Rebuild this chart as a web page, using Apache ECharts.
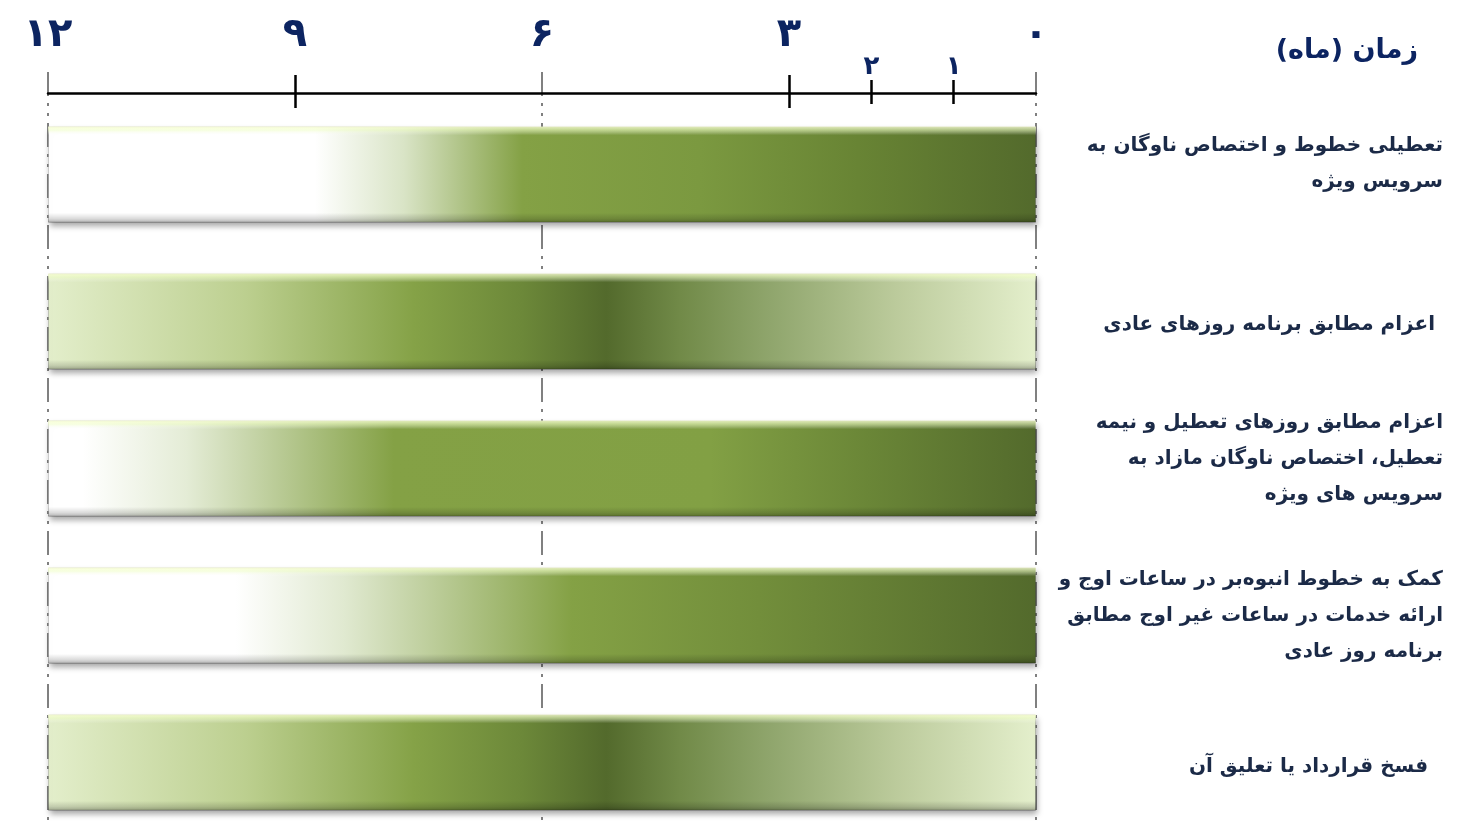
<!DOCTYPE html>
<html><head><meta charset="utf-8">
<script src="https://cdn.jsdelivr.net/npm/echarts@6/dist/echarts.min.js"></script>
<style>html,body{margin:0;padding:0;background:#fff}#c{width:1462px;height:824px}</style>
</head><body><div id="c"></div>
<script>
// ---------- data ----------
const categories = [
  'تعطیلی خطوط و اختصاص ناوگان به\nسرویس ویژه',
  'اعزام مطابق برنامه روزهای عادی',
  'اعزام مطابق روزهای تعطیل و نیمه\nتعطیل، اختصاص ناوگان مازاد به\nسرویس های ویژه',
  'کمک به خطوط انبوه\u200Cبر در ساعات اوج و\nارائه خدمات در ساعات غیر اوج مطابق\nبرنامه روز عادی',
  'فسخ قرارداد یا تعلیق آن'
];
const durations = [12, 12, 12, 12, 12];
const majorTicks = [0, 3, 6, 9, 12];
const minorTicks = [1, 2];
const crossTicks = [3, 9];
const axisTitle = 'زمان (ماه)';

// ---------- styles ----------
const faDigits = '۰۱۲۳۴۵۶۷۸۹';
const fa = n => String(n).replace(/\d/g, d => faDigits[d]);
const gradStops = [
  [[0,'#ffffff'],[0.27,'#ffffff'],[0.36,'#d9e4c6'],[0.48,'#84a145'],[0.66,'#7b9940'],[0.82,'#688434'],[1,'#536a2c']],
  [[0,'#e3eecb'],[0.2,'#bccf8f'],[0.37,'#85a247'],[0.48,'#6c8839'],[0.565,'#536a2c'],[0.64,'#718a48'],[0.73,'#8fa56c'],[0.86,'#bccb9c'],[1,'#e4efcc']],
  [[0,'#ffffff'],[0.035,'#ffffff'],[0.14,'#e4ecd6'],[0.35,'#84a145'],[0.67,'#82a044'],[0.83,'#6a8637'],[1,'#536a2c']],
  [[0,'#ffffff'],[0.19,'#ffffff'],[0.3,'#e0e9d0'],[0.53,'#84a145'],[0.72,'#728e3b'],[1,'#536a2c']],
  [[0,'#e3eecb'],[0.2,'#bccf8f'],[0.37,'#85a247'],[0.48,'#6c8839'],[0.565,'#536a2c'],[0.64,'#718a48'],[0.73,'#8fa56c'],[0.86,'#bccb9c'],[1,'#e4efcc']]
];
// layout nudges for the category labels (px): right padding, vertical shift
const labelPadRight = [0, 8, 0, 0, 15];
const labelShiftY = [-11, 3, -10, 0, 4];
const hGrad = stops => new echarts.graphic.LinearGradient(0,0,1,0, stops.map(s => ({offset:s[0], color:s[1]})));
const navy = '#0c2461';
const textCol = '#1b2a47';
const FONT = 'DejaVu Sans';

const rich = {};
for (let h = 1; h <= 30; h++) rich['s' + h] = {lineHeight: h, fontSize: 1, height: h};
function labelFmt(value, index) {
  const s = labelShiftY[index] || 0;
  if (s < 0) return value + '\n{s' + (-2 * s) + '| }';
  if (s > 0) return '{s' + (2 * s) + '| }\n' + value;
  return value;
}

const baseX = {type:'value', min:0, max:12, inverse:true, position:'top', gridIndex:0, offset:8,
  splitLine:{show:false}, axisLine:{show:false}, axisTick:{show:false}, axisLabel:{show:false}};

const chart = echarts.init(document.getElementById('c'), null, {renderer:'canvas'});
chart.setOption({
  animation:false,
  backgroundColor:'#ffffff',
  title:{text:'\u200F' + axisTitle + '\u200F', right:44, top:37, padding:0,
    textStyle:{fontFamily:FONT, fontSize:27, fontWeight:'bold', color:navy}},
  grid:[
    {left:48, width:988, top:101, height:735, containLabel:false, outerBoundsMode:'none'},
    {left:48, width:988, top:72, height:760, containLabel:false, outerBoundsMode:'none'}
  ],
  xAxis:[
    Object.assign({}, baseX, {
      axisLine:{show:true, lineStyle:{color:'#000', width:2.5}},
      axisTick:{show:true, customValues:crossTicks, length:18, lineStyle:{color:'#000', width:2.5}},
      axisLabel:{show:true, customValues:majorTicks, formatter:v => fa(v), fontFamily:FONT,
        fontSize:40, fontWeight:'bold', color:navy, margin:37}
    }),
    Object.assign({}, baseX, {
      axisTick:{show:true, inside:true, customValues:crossTicks, length:15, lineStyle:{color:'#000', width:2.5}}
    }),
    Object.assign({}, baseX, {
      axisTick:{show:true, customValues:minorTicks, length:13, lineStyle:{color:'#000', width:2.5}},
      axisLabel:{show:true, customValues:minorTicks, formatter:v => fa(v), fontFamily:FONT,
        fontSize:26, fontWeight:'bold', color:navy, margin:13}
    }),
    Object.assign({}, baseX, {
      axisTick:{show:true, inside:true, customValues:minorTicks, length:11, lineStyle:{color:'#000', width:2.5}}
    }),
    {type:'value', min:0, max:12, interval:6, inverse:true, position:'top', gridIndex:1,
      axisLine:{show:false}, axisTick:{show:false}, axisLabel:{show:false},
      splitLine:{show:true, lineStyle:{color:'#808080', width:2, type:[24,7,3,7,3,7]}}}
  ],
  yAxis:[
    {type:'category', gridIndex:0, inverse:true, position:'right',
      data: categories.map((c,i) => ({value:c, textStyle:{padding:[0, labelPadRight[i], 0, 0], align:'right'}})),
      axisLine:{show:false}, axisTick:{show:false}, splitLine:{show:false},
      axisLabel:{margin:407, align:'right', fontFamily:FONT, fontSize:20, fontWeight:'bold',
        lineHeight:36, color:textCol, formatter:labelFmt, rich:rich}},
    {type:'value', gridIndex:1, min:0, max:1, show:false}
  ],
  series:[
    {type:'bar', xAxisIndex:0, yAxisIndex:0, barWidth:96,
      data: durations.map((v,i) => ({value:v, itemStyle:{color:hGrad(gradStops[i])}})),
      itemStyle:{borderColor:'rgba(0,0,0,0.15)', borderWidth:1,
        shadowColor:'rgba(0,0,0,0.35)', shadowBlur:6, shadowOffsetX:1, shadowOffsetY:4}},
    {type:'bar', xAxisIndex:0, yAxisIndex:0, barWidth:96, barGap:'-100%', silent:true,
      data: durations,
      itemStyle:{color:new echarts.graphic.LinearGradient(0,0,0,1,[
        {offset:0, color:'rgba(250,255,215,0.85)'},
        {offset:0.04, color:'rgba(240,255,200,0.55)'},
        {offset:0.09, color:'rgba(255,255,255,0.0)'},
        {offset:0.9, color:'rgba(0,0,0,0)'},
        {offset:0.96, color:'rgba(0,0,0,0.14)'},
        {offset:1, color:'rgba(0,0,0,0.3)'}
      ])}}
  ]
});
</script></body></html>
